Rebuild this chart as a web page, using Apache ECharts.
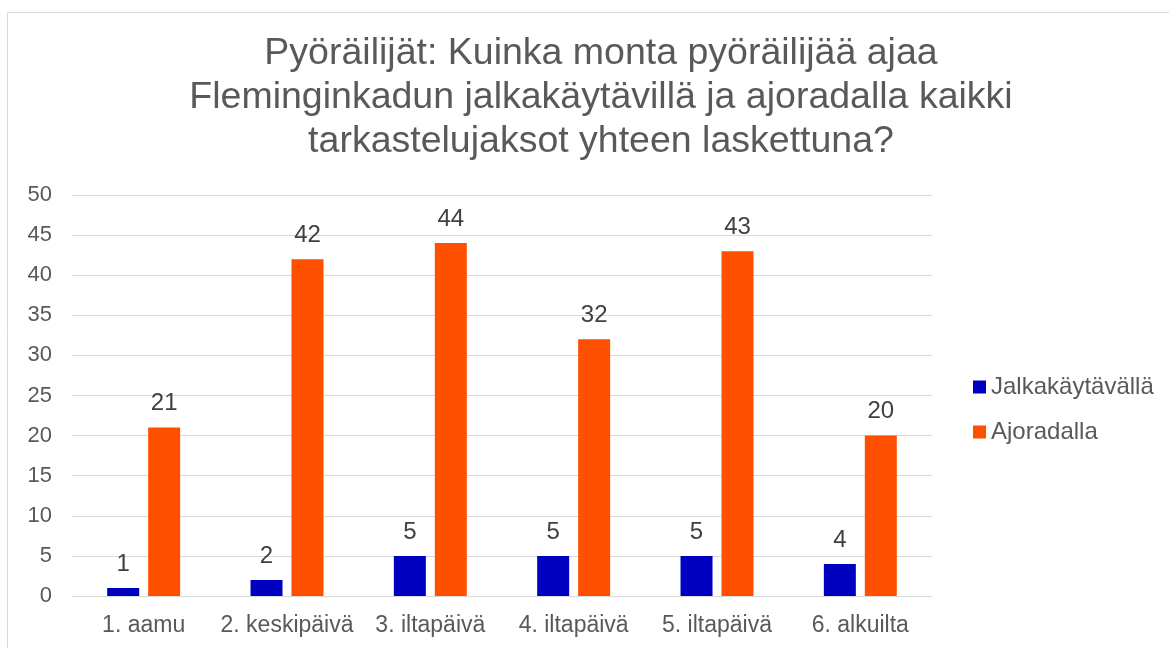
<!DOCTYPE html>
<html><head><meta charset="utf-8">
<script src="https://cdn.jsdelivr.net/npm/echarts@6/dist/echarts.min.js"></script>
<style>html,body{margin:0;padding:0;background:#fff}#c{width:1169px;height:648px}</style>
</head><body><div id="c"></div>
<script>
const titleText = "Pyöräilijät: Kuinka monta pyöräilijää ajaa\nFleminginkadun jalkakäytävillä ja ajoradalla kaikki\ntarkastelujaksot yhteen laskettuna?";
const categories = ["1. aamu", "2. keskipäivä", "3. iltapäivä", "4. iltapäivä", "5. iltapäivä", "6. alkuilta"];
const seriesNames = ["Jalkakäytävällä", "Ajoradalla"];
const jalkakaytavalla = [1, 2, 5, 5, 5, 4];
const ajoradalla = [21, 42, 44, 32, 43, 20];
const yTicks = { min: 0, max: 50, interval: 5 };

const chart = echarts.init(document.getElementById('c'), null, { renderer: 'canvas' });
const font = 'Arial, "Liberation Sans", sans-serif';
const labelCfg = { show: true, position: 'top', distance: 12, color: '#404040', fontSize: 24, fontFamily: font };
chart.setOption({
  animation: false,
  backgroundColor: '#fff',
  graphic: [{ type: 'rect', shape: { x: 7.5, y: 12.5, width: 1200, height: 700 }, style: { fill: 'none', stroke: '#d9d9d9', lineWidth: 1 }, silent: true }],
  title: {
    text: titleText, left: 596, textAlign: 'center', top: 27,
    textStyle: { color: '#595959', fontSize: 37.5, fontWeight: 'normal', fontFamily: font, lineHeight: 44 }
  },
  legend: {
    orient: 'vertical', left: 968, top: 370, itemWidth: 13, itemHeight: 13, itemGap: 21,
    icon: 'rect',
    textStyle: { color: '#595959', fontSize: 24, fontFamily: font },
    data: seriesNames
  },
  grid: { left: 72, right: 237, top: 195, bottom: 52, containLabel: false },
  xAxis: {
    type: 'category', data: categories,
    axisLine: { lineStyle: { color: '#d9d9d9', width: 1 } },
    axisTick: { show: false },
    axisLabel: { color: '#595959', fontSize: 23, fontFamily: font, margin: 18, interval: 0 }
  },
  yAxis: {
    type: 'value', min: yTicks.min, max: yTicks.max, interval: yTicks.interval,
    axisLine: { show: false }, axisTick: { show: false },
    axisLabel: { color: '#595959', fontSize: 22, fontFamily: font, margin: 20 },
    splitLine: { lineStyle: { color: '#d9d9d9', width: 1 } }
  },
  series: [
    { name: seriesNames[0], type: 'bar', data: jalkakaytavalla, barWidth: 32, barGap: '28%', itemStyle: { color: '#0000C0' }, label: labelCfg },
    { name: seriesNames[1], type: 'bar', data: ajoradalla, barWidth: 32, barGap: '28%', itemStyle: { color: '#FF5000' }, label: labelCfg }
  ]
});
</script></body></html>
